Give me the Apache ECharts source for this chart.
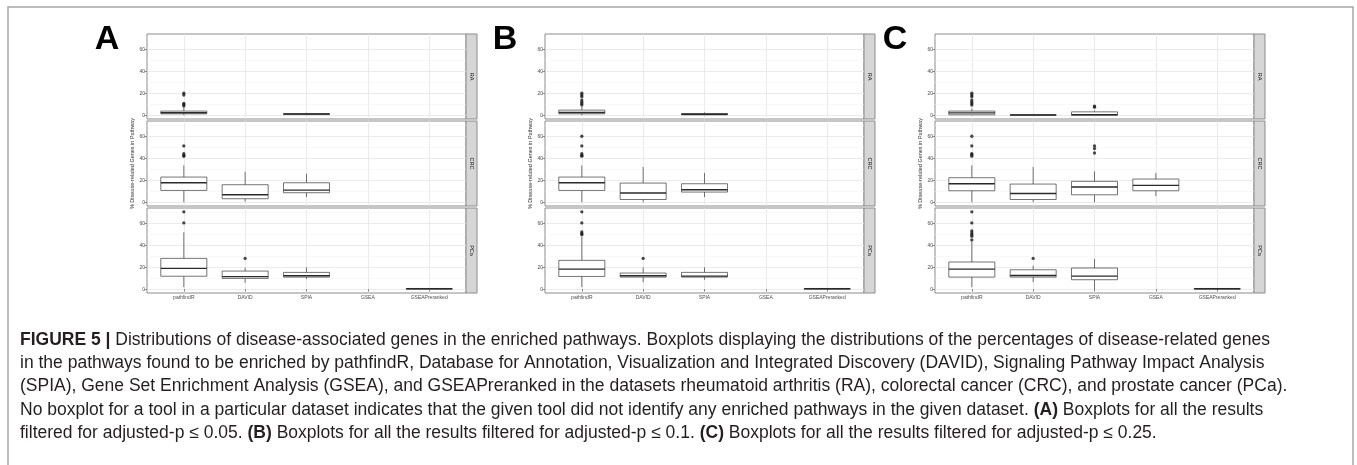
<!DOCTYPE html>
<html>
<head>
<meta charset="utf-8">
<title>Figure 5</title>
<script src="https://cdn.jsdelivr.net/npm/echarts@6/dist/echarts.min.js"></script>
<style>
  html, body { margin: 0; padding: 0; background: #fff; }
  #chart { width: 1357px; height: 465px; }
</style>
</head>
<body>
<div id="chart"></div>
<script>
  // tools on the x axis, facets (datasets) and panels (p-value cut-offs)
  const tools = ["pathfindR", "DAVID", "SPIA", "GSEA", "GSEAPreranked"];
  const facetNames = ["RA", "CRC", "PCa"];
  const panelLetters = ["A", "B", "C"];
  const yTicks = [0, 20, 40, 60];
  const yMinorTicks = [10, 30, 50, 70];

  // box stats: [tool, lower whisker, Q1, median, Q3, upper whisker]
  const boxA_RA = [["pathfindR", 0, 1.2, 2.2, 3.7, 6.5], ["SPIA", 0, 0.5, 1, 1.4, 2.2]];
  const boxA_CRC = [["pathfindR", 0, 10.7, 17.7, 22.9, 33.6], ["DAVID", 0.5, 3.1, 6.7, 15.9, 27.8], ["SPIA", 4.6, 8.6, 11, 17.7, 26]];
  const boxA_PCa = [["pathfindR", 1.8, 11.8, 19, 28.1, 52], ["DAVID", 5.8, 9.8, 11.4, 16.5, 19.5], ["SPIA", 9.2, 11, 12.2, 15.3, 19.9], ["GSEAPreranked", 0, 0, 0.3, 0.6, 0.6]];
  const boxB_RA = [["pathfindR", 0, 1.2, 2.4, 4.6, 7.5], ["SPIA", 0, 0.3, 0.8, 1.5, 2.5]];
  const boxB_CRC = [["pathfindR", 0, 10.7, 17.7, 22.9, 33.6], ["DAVID", 0, 2.4, 8.3, 17.4, 32.1], ["SPIA", 4.6, 9.2, 11.3, 16.8, 26.6]];
  const boxB_PCa = [["pathfindR", 1.8, 11.6, 18.3, 26.3, 48], ["DAVID", 6.4, 11, 12.2, 14.7, 19.9], ["SPIA", 8.6, 11, 11.9, 15.3, 19.9], ["GSEAPreranked", 0, 0, 0.3, 0.6, 0.6]];
  const boxC_RA = [["pathfindR", 0, 0.3, 2.1, 3.7, 6.1], ["DAVID", 0, 0, 0.1, 0.3, 0.3], ["SPIA", 0, 0, 0.3, 3, 4.3]];
  const boxC_CRC = [["pathfindR", 0, 10.4, 16.8, 22.3, 33.6], ["DAVID", 0, 2.4, 7.9, 16.5, 32.1], ["SPIA", 0, 6.7, 13.8, 19, 28.1], ["GSEA", 5.5, 10.4, 15.3, 21.1, 26.6]];
  const boxC_PCa = [["pathfindR", 1.8, 11, 18.3, 24.8, 43.5], ["DAVID", 6.4, 11, 12.5, 17.7, 21.4], ["SPIA", 0, 8.6, 11.9, 19.3, 27.5], ["GSEAPreranked", 0, 0, 0.3, 0.6, 0.6]];

  // outliers: [tool, value]
  const outA_RA = [["pathfindR", 20], ["pathfindR", 18.3], ["pathfindR", 10.7], ["pathfindR", 9.5], ["pathfindR", 8.3]];
  const outA_CRC = [["pathfindR", 51.4], ["pathfindR", 44.3], ["pathfindR", 42.8], ["pathfindR", 41.9]];
  const outA_PCa = [["pathfindR", 70.6], ["pathfindR", 60.5], ["DAVID", 28.1]];
  const outB_RA = [["pathfindR", 20], ["pathfindR", 18.3], ["pathfindR", 16.8], ["pathfindR", 13.8], ["pathfindR", 12.2], ["pathfindR", 10.7], ["pathfindR", 9.2]];
  const outB_CRC = [["pathfindR", 60.2], ["pathfindR", 51.4], ["pathfindR", 44.3], ["pathfindR", 42.8], ["pathfindR", 42]];
  const outB_PCa = [["pathfindR", 70.6], ["pathfindR", 60.5], ["pathfindR", 52.3], ["pathfindR", 50.8], ["pathfindR", 49.8], ["DAVID", 28.1]];
  const outC_RA = [["pathfindR", 20], ["pathfindR", 18.3], ["pathfindR", 16.8], ["pathfindR", 13.8], ["pathfindR", 12.2], ["pathfindR", 10.7], ["pathfindR", 9.2], ["SPIA", 8.3], ["SPIA", 7.3]];
  const outC_CRC = [["pathfindR", 60.2], ["pathfindR", 51.4], ["pathfindR", 44.3], ["pathfindR", 43.4], ["pathfindR", 42], ["SPIA", 51.4], ["SPIA", 48.9], ["SPIA", 44.9]];
  const outC_PCa = [["pathfindR", 70.6], ["pathfindR", 60.5], ["pathfindR", 53.2], ["pathfindR", 51.4], ["pathfindR", 49.8], ["pathfindR", 48.3], ["pathfindR", 45], ["DAVID", 28.1]];

  const boxes = [[boxA_RA, boxA_CRC, boxA_PCa], [boxB_RA, boxB_CRC, boxB_PCa], [boxC_RA, boxC_CRC, boxC_PCa]];
  const outliers = [[outA_RA, outA_CRC, outA_PCa], [outB_RA, outB_CRC, outB_PCa], [outC_RA, outC_CRC, outC_PCa]];

  const captionLines = [
    "{b|FIGURE 5 |} Distributions of disease-associated genes in the enriched pathways. Boxplots displaying the distributions of the percentages of disease-related genes",
    "in the pathways found to be enriched by pathfindR, Database for Annotation, Visualization and Integrated Discovery (DAVID), Signaling Pathway Impact Analysis",
    "(SPIA), Gene Set Enrichment Analysis (GSEA), and GSEAPreranked in the datasets rheumatoid arthritis (RA), colorectal cancer (CRC), and prostate cancer (PCa).",
    "No boxplot for a tool in a particular dataset indicates that the given tool did not identify any enriched pathways in the given dataset. {b|(A)} Boxplots for all the results",
    "filtered for adjusted-p \u2264 0.05. {b|(B)} Boxplots for all the results filtered for adjusted-p \u2264 0.1. {b|(C)} Boxplots for all the results filtered for adjusted-p \u2264 0.25."
  ];

  // layout
  const font = "Liberation Sans, Arial, sans-serif";
  const captionSize = 17.5;
  const panelLeft = [147, 545, 935];
  const panelWidth = 319;
  const facetTop = [34, 121, 208];
  const facetHeight = 85;
  const stripWidth = 11;
  const yMin = -3.53, yMax = 74.13;

  const lineCol = "#3a3a3a";

  function renderBox(params, api) {
    const x = api.value(0);
    const lo = api.coord([x, api.value(1)]);
    const q1 = api.coord([x, api.value(2)]);
    const md = api.coord([x, api.value(3)]);
    const q3 = api.coord([x, api.value(4)]);
    const hi = api.coord([x, api.value(5)]);
    const half = api.size([0.75, 0])[0] / 2;
    const thin = {stroke: lineCol, lineWidth: 0.7};
    return {
      type: "group",
      children: [
        {type: "line", shape: {x1: lo[0], y1: lo[1], x2: q1[0], y2: q1[1]}, style: thin},
        {type: "line", shape: {x1: q3[0], y1: q3[1], x2: hi[0], y2: hi[1]}, style: thin},
        {type: "rect", shape: {x: q1[0] - half, y: q3[1], width: half * 2, height: q1[1] - q3[1]},
          style: {fill: "#fff", stroke: lineCol, lineWidth: 0.7}},
        {type: "line", shape: {x1: md[0] - half, y1: md[1], x2: md[0] + half, y2: md[1]},
          style: {stroke: "#2a2a2a", lineWidth: 1.4}}
      ]
    };
  }

  const grid = [], xAxis = [], yAxis = [], series = [], graphic = [];

  graphic.push({
    type: "rect", silent: true, z: -10,
    shape: {x: 8, y: 7, width: 1345, height: 470},
    style: {fill: "none", stroke: "#a8a8a8", lineWidth: 1.5}
  });

  panelLetters.forEach((letter, p) => {
    graphic.push({
      type: "text", silent: true,
      x: panelLeft[p] - 40, y: 40,
      style: {text: letter, font: "bold 34px " + font, fill: "#000", align: "center", verticalAlign: "middle"}
    });

    facetNames.forEach((facet, f) => {
      const i = p * 3 + f;
      const bottom = f === 2;
      grid.push({
        left: panelLeft[p], top: facetTop[f], width: panelWidth, height: facetHeight,
        show: true, backgroundColor: "#fff", borderColor: "#8c8c8c", borderWidth: 1
      });
      xAxis.push({
        type: "value", gridIndex: i, min: 0.4, max: 5.6,
        axisLine: {show: false},
        axisTick: {show: bottom, length: 2.5, customValues: [1, 2, 3, 4, 5], lineStyle: {color: "#444", width: 0.6}},
        axisLabel: {
          show: bottom, customValues: [1, 2, 3, 4, 5], margin: 2.5,
          fontSize: 5, fontFamily: font, color: "#4d4d4d",
          formatter: v => tools[Math.round(v) - 1]
        },
        splitLine: {show: true, lineStyle: {color: "#e6e6e6", width: 0.8}}
      });
      yAxis.push({
        type: "value", gridIndex: i, min: yMin, max: yMax,
        name: f === 1 ? "% Disease-related Genes in Pathway" : "",
        nameLocation: "middle", nameGap: 11, nameRotate: 90,
        nameTextStyle: {fontSize: 5.5, fontFamily: font, color: "#333"},
        axisLine: {show: false},
        axisTick: {show: true, length: 2.5, customValues: yTicks, lineStyle: {color: "#444", width: 0.6}},
        axisLabel: {customValues: yTicks, margin: 2, fontSize: 5, fontFamily: font, color: "#4d4d4d"},
        splitLine: {show: true, lineStyle: {color: "#e6e6e6", width: 0.8}}
      });
      yAxis.push({
        type: "value", gridIndex: i, min: yMin, max: yMax, position: "left",
        axisLine: {show: false},
        axisTick: {show: false, customValues: yMinorTicks},
        axisLabel: {show: false},
        splitLine: {show: true, lineStyle: {color: "#f2f2f2", width: 0.5}}
      });

      series.push({
        type: "custom", xAxisIndex: i, yAxisIndex: 2 * i, silent: true,
        renderItem: renderBox,
        encode: {x: 0, y: [1, 2, 3, 4, 5]},
        data: boxes[p][f].map(b => [tools.indexOf(b[0]) + 1, b[1], b[2], b[3], b[4], b[5]])
      });
      series.push({
        type: "scatter", xAxisIndex: i, yAxisIndex: 2 * i, silent: true,
        symbolSize: 3.3, itemStyle: {color: "#1a1a1a"},
        data: outliers[p][f].map(o => [tools.indexOf(o[0]) + 1, o[1]])
      });

      // facet strip on the right
      const sx = panelLeft[p] + panelWidth;
      graphic.push({
        type: "rect", silent: true,
        shape: {x: sx, y: facetTop[f], width: stripWidth, height: facetHeight},
        style: {fill: "#d6d6d6", stroke: "#8c8c8c", lineWidth: 1}
      });
      graphic.push({
        type: "text", silent: true,
        x: sx + stripWidth / 2, y: facetTop[f] + facetHeight / 2, rotation: -Math.PI / 2,
        style: {text: facet, fontSize: 5.5, fontFamily: font, fill: "#1a1a1a", align: "center", verticalAlign: "middle"}
      });
    });
  });

  captionLines.forEach((line, k) => {
    graphic.push({
      type: "text", silent: true,
      x: 20, y: 340 + k * 23.3,
      style: {
        text: line, fontSize: captionSize, fontFamily: font, fill: "#231f20", verticalAlign: "middle",
        rich: {b: {fontSize: captionSize, fontFamily: font, fontWeight: "bold", fill: "#231f20"}}
      }
    });
  });

  const chart = echarts.init(document.getElementById("chart"), null, {renderer: "canvas"});
  chart.setOption({
    animation: false,
    backgroundColor: "#fff",
    grid: grid,
    xAxis: xAxis,
    yAxis: yAxis,
    series: series,
    graphic: graphic
  });
</script>
</body>
</html>
